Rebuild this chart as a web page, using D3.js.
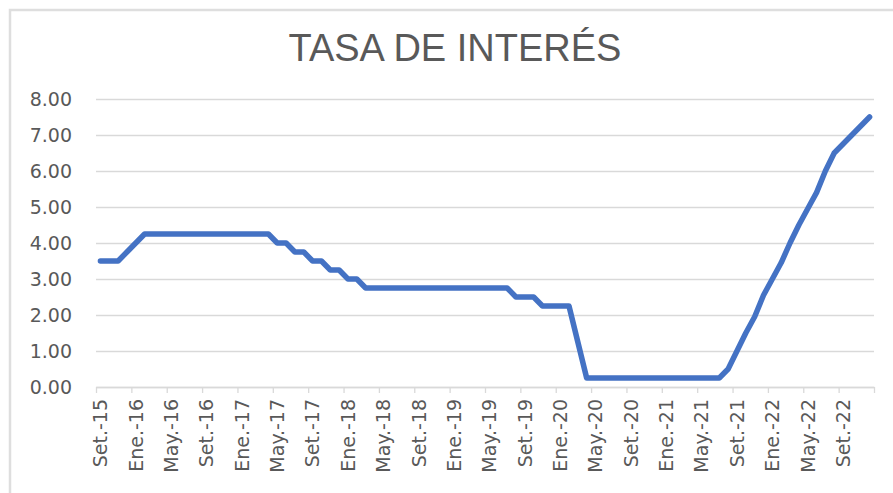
<!DOCTYPE html>
<html>

<head>
  <title>Tasa de interés</title>
  <meta charset="utf-8">
  <script src="https://d3js.org/d3.v7.min.js"></script>

  <style>
    body { margin: 0; background: #fff; }
    text { fill: #595959; }
    .title { font-family: "Liberation Sans", Arial, sans-serif; font-size: 38px; }
    .tick text { font-family: "DejaVu Sans", sans-serif; font-size: 19px; }
  </style>
</head>

<body>
  <svg width="893" height="493"></svg>
  <script>

    // monthly reference rate, Set.-15 .. Dic.-22
    var startYear = 2015, startMonth = 8; // 0-based, Setiembre
    var monthNames = ["Ene.", "Feb.", "Mar.", "Abr.", "May.", "Jun.", "Jul.", "Ago.", "Set.", "Oct.", "Nov.", "Dic."];
    var rates = [
      3.50, 3.50, 3.50, 3.75,                                                 // 2015
      4.00, 4.25, 4.25, 4.25, 4.25, 4.25, 4.25, 4.25, 4.25, 4.25, 4.25, 4.25, // 2016
      4.25, 4.25, 4.25, 4.25, 4.00, 4.00, 3.75, 3.75, 3.50, 3.50, 3.25, 3.25, // 2017
      3.00, 3.00, 2.75, 2.75, 2.75, 2.75, 2.75, 2.75, 2.75, 2.75, 2.75, 2.75, // 2018
      2.75, 2.75, 2.75, 2.75, 2.75, 2.75, 2.75, 2.50, 2.50, 2.50, 2.25, 2.25, // 2019
      2.25, 2.25, 1.25, 0.25, 0.25, 0.25, 0.25, 0.25, 0.25, 0.25, 0.25, 0.25, // 2020
      0.25, 0.25, 0.25, 0.25, 0.25, 0.25, 0.25, 0.50, 1.00, 1.50, 1.95, 2.55, // 2021
      3.00, 3.45, 4.00, 4.50, 4.95, 5.40, 6.00, 6.50, 6.75, 7.00, 7.25, 7.50  // 2022
    ];
    var yTicks = [0, 1, 2, 3, 4, 5, 6, 7, 8];
    var labelStep = 4;

    var categories = rates.map(function(d, i) {
      var m = startMonth + i;
      var yy = (startYear + Math.floor(m / 12)) % 100;
      return monthNames[m % 12] + "-" + yy;
    });

    var svg = d3.select("svg");

    // chart border (cut at right and bottom)
    svg.append("path")
      .attr("d", "M10,493V10H893")
      .attr("fill", "none")
      .attr("stroke", "#dedede")
      .attr("stroke-width", 2.5);

    svg.append("text")
      .attr("class", "title")
      .attr("x", 455)
      .attr("y", 61)
      .attr("text-anchor", "middle")
      .text("TASA DE INTERÉS");

    var x = d3.scaleLinear().domain([0, rates.length]).range([96, 874]);
    var y = d3.scaleLinear().domain([0, 8]).range([387, 99]);

    // y axis + gridlines
    var yAxis = svg.append("g")
      .attr("transform", "translate(96,0)")
      .call(d3.axisLeft(y).tickValues(yTicks).tickFormat(d3.format(".2f"))
        .tickSize(-(874 - 96)).tickPadding(24));
    yAxis.select(".domain").remove();
    yAxis.selectAll(".tick line").attr("stroke", "#d9d9d9").attr("stroke-width", 1.3);
    yAxis.selectAll(".tick text").attr("dy", "0.36em");

    // x axis: ticks between categories, label every 4th month
    var boundaries = d3.range(0, rates.length + 1, labelStep);
    var xAxis = svg.append("g")
      .attr("transform", "translate(0," + y(0) + ")")
      .call(d3.axisBottom(x).tickValues(boundaries).tickSize(6).tickSizeOuter(0).tickFormat(""));
    xAxis.select(".domain").attr("stroke", "#d9d9d9").attr("stroke-width", 1.3);
    xAxis.selectAll(".tick line").attr("stroke", "#d9d9d9").attr("stroke-width", 1.3);

    var labelIdx = d3.range(0, rates.length, labelStep);
    svg.append("g")
      .selectAll("text")
      .data(labelIdx)
      .enter()
      .append("text")
      .attr("class", "tick")
      .style("font-family", "'DejaVu Sans', sans-serif")
      .style("font-size", "19px")
      .attr("text-anchor", "end")
      .attr("transform", function(d) { return "translate(" + x(d + 0.5) + ",399)rotate(-90)"; })
      .attr("dy", "0.36em")
      .text(function(d) { return categories[d]; });

    // series
    var line = d3.line()
      .x(function(d, i) { return x(i + 0.5); })
      .y(function(d) { return y(d); });

    svg.append("path")
      .datum(rates)
      .attr("d", line)
      .attr("fill", "none")
      .attr("stroke", "#4472c4")
      .attr("stroke-width", 5.5)
      .attr("stroke-linejoin", "round")
      .attr("stroke-linecap", "round");

  </script>
</body>

</html>
